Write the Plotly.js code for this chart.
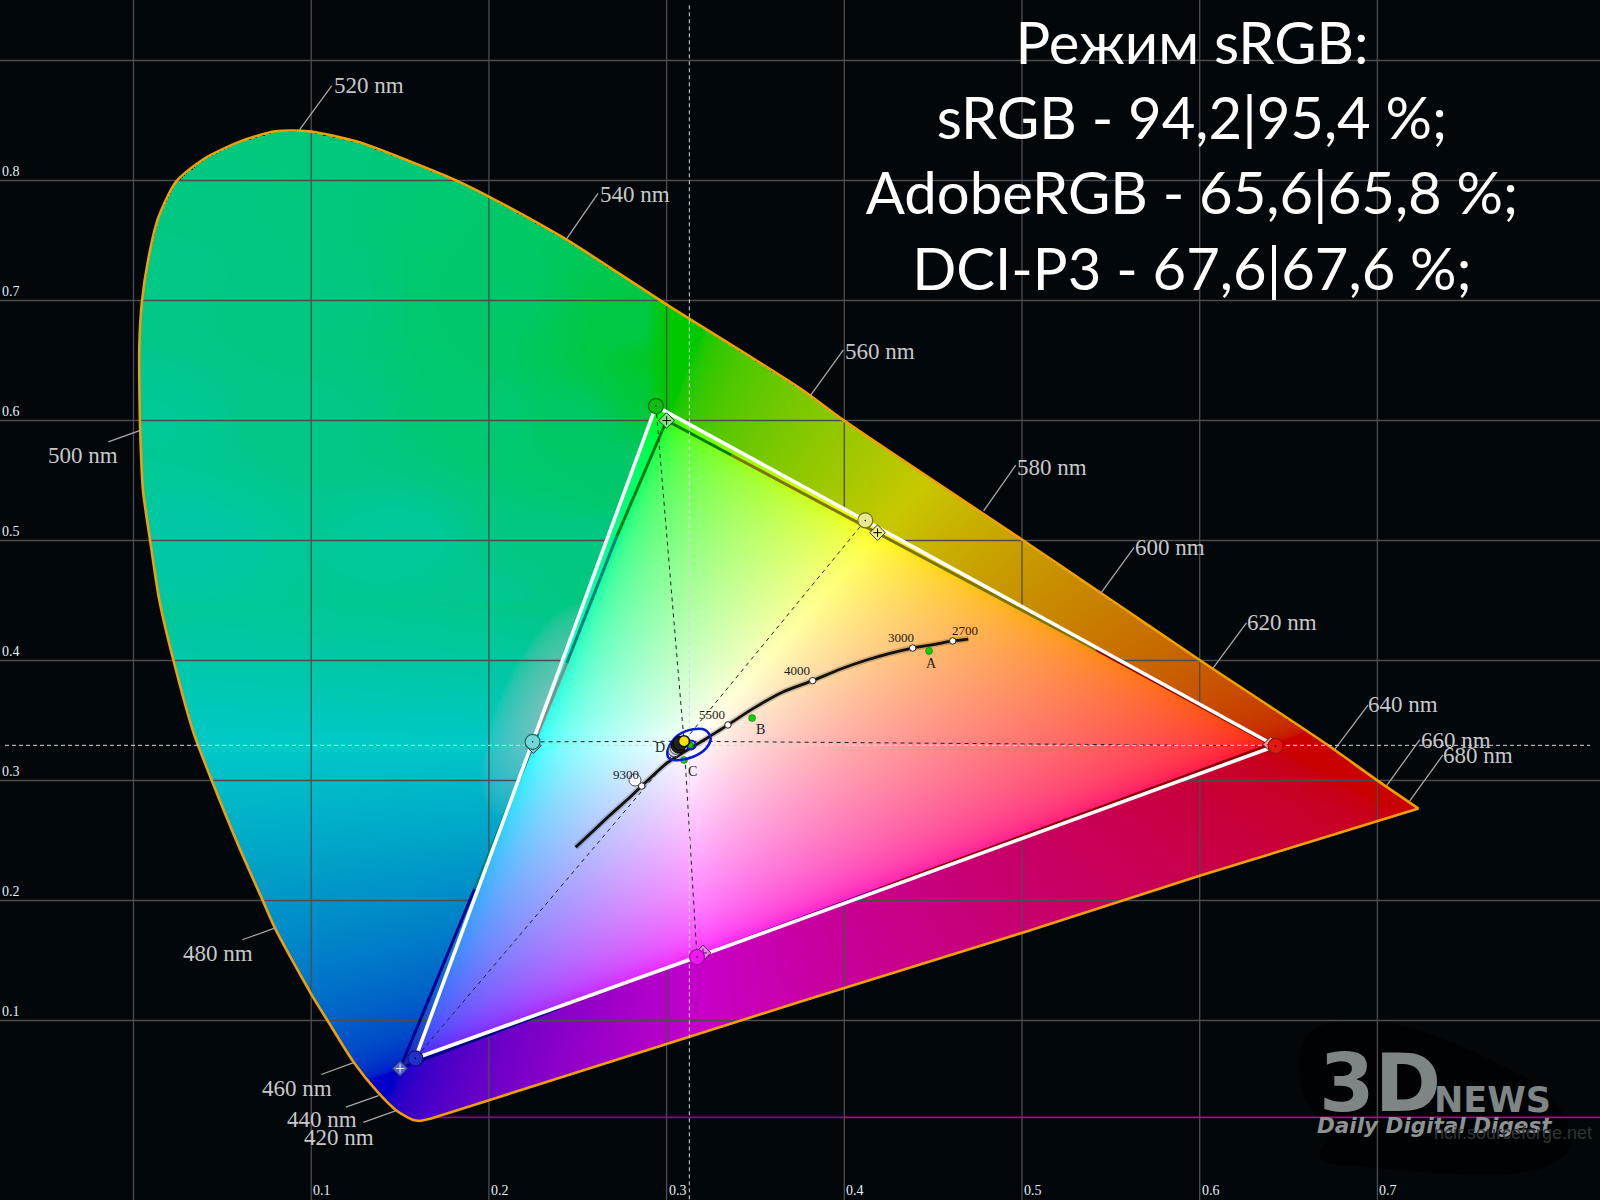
<!DOCTYPE html>
<html><head><meta charset="utf-8">
<script src="https://cdn.plot.ly/plotly-3.0.1.min.js"></script>
<style>html,body{margin:0;padding:0;background:#01070b}#c{width:1600px;height:1200px}</style>
</head><body><div id="c"></div>
<script>
// ---- values (CIE x, y) ----
const locusX=[.1612,.1575,.1481,.1372,.1237,.1096,.1,.0799,.0727,.0598,.044,.034,.0225,.0145,.0096,.0053,.0038,.0033,.0033,.0047,.0082,.0139,.0239,.0397,.0598,.0799,.0986,.1258,.1546,.1833,.2005,.2421,.2981,.3751,.3995,.4999,.5502,.6004,.6708,.6995,.7231,.6004,.4999,.3751,.1675,.1612];
const locusY=[.0163,.0171,.0248,.0407,.0657,.099,.122,.1762,.2001,.2431,.3002,.3388,.4,.4504,.4976,.5422,.5901,.6315,.6634,.6985,.7336,.7687,.7989,.8181,.8324,.841,.841,.8324,.8165,.7989,.7862,.7521,.6985,.6268,.6003,.5008,.4504,.4,.3308,.3005,.2766,.2208,.173,.1156,.0183,.0163];

// blue level of the dim field in its upper-left part, read at sample spots (x, y, level out of 200)
const fieldSpotX=[.09,.05,.02,.1,.2,.28,.295,.29,.2,.25,.1,.01,.15,.25,.03,.2,.27,.27,.24];
const fieldSpotY=[.83,.8,.72,.7,.7,.68,.65,.62,.6,.6,.6,.6,.5,.5,.5,.45,.55,.47,.42];
const fieldSpotBlue=[122,128,135,128,105,70,40,60,115,100,135,150,155,130,165,145,105,125,135];

const gridXValues=[0,.1,.2,.3,.4,.5,.6,.7];
const gridYValues=[.1,.2,.3,.4,.5,.6,.7,.8,.9];
const xTickLabels=['0.1','0.2','0.3','0.4','0.5','0.6','0.7'];
const xTickValues=[.1,.2,.3,.4,.5,.6,.7];
const yTickLabels=['0.1','0.2','0.3','0.4','0.5','0.6','0.7','0.8'];
const yTickValues=[.1,.2,.3,.4,.5,.6,.7,.8];

const nmLabels=['520 nm','540 nm','560 nm','580 nm','600 nm','620 nm','640 nm','660 nm','680 nm','500 nm','480 nm','460 nm','440 nm','420 nm'];
const nmLabelX=[.112,.2617,.3996,.4964,.5628,.6258,.6939,.7237,.7362,-.0486,.0274,.0719,.0856,.0955];
const nmLabelY=[.8788,.7885,.6577,.561,.4943,.4313,.3635,.3335,.321,.571,.156,.0435,.0173,.0029];
const leaderStartX=[.0934,.2436,.3807,.4784,.5445,.6076,.676,.7052,.7182,.0038,.0799,.1235,.1379,.1474];
const leaderStartY=[.8421,.7511,.6204,.5247,.4563,.3938,.326,.2958,.283,.5917,.1771,.0646,.0374,.0247];
const leaderEndX=[.1115,.2614,.3995,.4965,.5631,.6263,.6947,.7239,.7369,-.0142,.0612,.1057,.1195,.1293];
const leaderEndY=[.8788,.7893,.6588,.5629,.4943,.4313,.3628,.334,.3213,.5821,.1673,.055,.0279,.0151];

// measured gamut: R, Y, G, C, B, M circles
const measuredX={R:.6427,Y:.4118,G:.294,C:.2246,B:.1586,M:.3171};
const measuredY={R:.3288,Y:.5167,G:.612,C:.3322,B:.0685,M:.1529};
// reference sRGB gamut: diamonds
const refX={R:.64,Y:.4187,G:.30,C:.225,B:.15,M:.3205};
const refY={R:.33,Y:.5065,G:.60,C:.329,B:.06,M:.1563};
const whiteX=.3098, whiteY=.3327;
const crossX=.3128, crossY=.3293;

const planckX=[.2488,.2588,.2682,.2775,.286,.3,.3226,.33,.3345,.3479,.3657,.3822,.3976,.4126,.4257,.4385,.4501,.461,.4698];
const planckY=[.2443,.2582,.2712,.2835,.2954,.3143,.3352,.3421,.3463,.3593,.374,.3832,.3927,.4004,.406,.4104,.4132,.4163,.4179];
const cctX=[.286,.3345,.3822,.4385,.461];
const cctY=[.2954,.3463,.3832,.4104,.4163];
const cctLabels=['9300','5500','4000','3000','2700'];
const cctLabelX=[.2772,.3257,.3736,.4319,.4678];
const cctLabelY=[.3046,.3552,.3918,.4192,.4249];
const illumX=[.4477,.3481,.3098,.3132];
const illumY=[.408,.3521,.3171,.3296];
const illumLabels=['A','B','C','D'];
const illumLabelX=[.4491,.3527,.3147,.2963];
const illumLabelY=[.3978,.3427,.3073,.3271];
const ellipseX=[.3004,.3019,.3066,.315,.3216,.3248,.3222,.315,.3075,.3019,.3004];
const ellipseY=[.3218,.3296,.3379,.3427,.3421,.3352,.3268,.3198,.3171,.3177,.3218];
const clusterX=[.3043,.3053,.3066,.3075];
const clusterY=[.3248,.3268,.3288,.331];
const blobX=[.6564,.6651,.7052,.7627,.7999,.8086,.7885,.6909,.6679,.6708,.6593,.6564];
const blobY=[.0741,.0933,.098,.0678,.0327,-.0057,-.0248,-.0216,-.0152,.0039,.0358,.0741];

const titleLines=['Режим sRGB:','sRGB - 94,2|95,4 %;','AdobeRGB - 65,6|65,8 %;','DCI-P3 - 67,6|67,6 %;'];

// ---- axes: one pixel is 1/1777 x and 1/1200 y ----
const xRange=[-133.5/1777,(1600-133.5)/1777];
const yRange=[-59.5/1200,1140.5/1200];
const STEPX=2/1777, STEPY=2/1200;
const BG='#01070b';

function inside(px,py,X,Y){let c=false;for(let i=0,j=X.length-1;i<X.length;j=i++){
  if((Y[i]>py)!==(Y[j]>py)&&px<(X[j]-X[i])*(py-Y[i])/(Y[j]-Y[i])+X[i])c=!c;}return c;}
function linear(x,y){
  const X=x/y,Z=(1-x-y)/y;
  let r=3.2406*X-1.5372-.4986*Z,g=-.9689*X+1.8758+.0415*Z,b=.0557*X-.204+1.057*Z;
  r=Math.max(r,0);g=Math.max(g,0);b=Math.max(b,0);
  const m=Math.max(r,g,b)||1;
  return [r/m,g/m,b/m];
}
function spotBlue(x,y){
  if(x>=.3||y<.42)return 0;
  let s=0,w=0;
  for(let k=0;k<fieldSpotX.length;k++){
    const dx=x-fieldSpotX[k],dy=y-fieldSpotY[k];
    const d=dx*dx+dy*dy+1e-4,q=1/(d*Math.sqrt(d));
    s+=q*fieldSpotBlue[k];w+=q;
  }
  return (s/w)*Math.min(1,(.3-x)/.012)*Math.min(1,(y-.42)/.03);
}
function buildOuter(x0,y0,nx,ny){
  const z=[];
  for(let j=0;j<ny;j++){const row=[];const y=y0+j*STEPY;
    for(let i=0;i<nx;i++){const x=x0+i*STEPX;
      if(!inside(x,y,locusX,locusY)){row.push([0,0,0,0]);continue;}
      const c=linear(x,y);
      let R=200*Math.pow(c[0],1/2.2);
      let G=200*Math.pow(c[1],c[1]<1?1/2.75:1);
      let B=Math.max(200*Math.pow(c[2],1/2.2),spotBlue(x,y));
      // pale haze just outside the cyan side of the measured gamut
      const xl=measuredX.C+(y-measuredY.C)*.25;
      const dx=(xl-x)/.028,dy=(y-.36)/.09,r=Math.sqrt(dx*dx+dy*dy);
      if(r<1&&x<xl+.01){const a=.6*Math.pow(1-r,.6);R+=(190-R)*a;G+=(190-G)*a;B+=(190-B)*a;}
      row.push([R,G,B,1]);}
    z.push(row);}
  return z;
}
function buildInner(x0,y0,nx,ny){
  const tx=[measuredX.R,measuredX.G,measuredX.B],ty=[measuredY.R,measuredY.G,measuredY.B];
  const z=[];
  for(let j=0;j<ny;j++){const row=[];const y=y0+j*STEPY;
    for(let i=0;i<nx;i++){const x=x0+i*STEPX;
      if(!inside(x,y,tx,ty)){row.push([0,0,0,0]);continue;}
      const c=linear(x,y);row.push([255*Math.pow(c[0],1/2.5),255*Math.pow(c[1],1/2.5),255*Math.pow(c[2],1/2.5),1]);}
    z.push(row);}
  return z;
}
function segs(xa,ya,xb,yb){const X=[],Y=[];xa.forEach((_,i)=>{X.push(xa[i],xb[i],null);Y.push(ya[i],yb[i],null);});return [X,Y];}

const traces=[];
// base subplot: dim field, watermark shadow, grid
traces.push({type:'image',colormodel:'rgba',z:buildOuter(-.002,0,660,515),x0:-.002,y0:0,dx:STEPX,dy:STEPY,hoverinfo:'skip'});
traces.push({type:'scatter',mode:'lines',x:blobX,y:blobY,fill:'toself',fillcolor:'#000305',line:{width:0,color:'#000305',shape:'spline'},hoverinfo:'skip'});
const gridLine={color:'#4d4d4f',width:1.3};
{const X=[],Y=[];gridXValues.forEach(v=>{X.push(v,v,null);Y.push(yRange[0],yRange[1],null);});
 traces.push({type:'scatter',mode:'lines',x:X,y:Y,line:gridLine,hoverinfo:'skip'});
 const X2=[],Y2=[];gridYValues.forEach(v=>{X2.push(xRange[0],xRange[1],null);Y2.push(v,v,null);});
 traces.push({type:'scatter',mode:'lines',x:X2,y:Y2,line:gridLine,hoverinfo:'skip'});}

// top subplot
const T={xaxis:'x2',yaxis:'y2',hoverinfo:'skip'};
function line(x,y,color,width,dash,extra){traces.push(Object.assign({type:'scatter',mode:'lines',x,y,line:Object.assign({color,width,dash:dash||'solid'},extra||{})},T));}
traces.push(Object.assign({type:'image',colormodel:'rgba',z:buildInner(.15,.06,445,335),x0:.15,y0:.06,dx:STEPX,dy:STEPY},T));

// purple line, locus (the curved part smoothed, the straight purple edge not)
line([.1675,.40],[.0193,.0193],'#7d0a8c',1.6);
line([.40,xRange[1]],[.0193,.0193],'#a3107a',1.6);
line(locusX.slice(0,41),locusY.slice(0,41),'#f0a000',2.6,null,{shape:'spline',smoothing:.7});
line(locusX.slice(40),locusY.slice(40),'#f0a000',2.6);

// leaders
{const s=segs(leaderStartX,leaderStartY,leaderEndX,leaderEndY);line(s[0],s[1],'#a8a8a8',1.3);}

// sRGB reference triangle, coloured by stretch
line([refX.G,.3366],[refY.G,.571],'#007a10',3);
line([.3366,.5417],[.571,.409],'#7d7400',3);
line([.5417,refX.R],[.409,refY.R],'#8b0000',3);
line([refX.G,.2719],[refY.G,.5032],'#007a10',3);
line([.2719,.2438],[.5032,.3977],'#008078',3);
line([.2438,.2276],[.3977,.3393],'#8a8a8a',3);
line([.2276,.1919],[.3393,.2096],'#008078',3);
line([.1919,refX.B],[.2096,refY.B],'#000090',3);
line([refX.B,.24],[refY.B,.1107],'#00008a',3);
line([.24,.42],[.1107,.2099],'#800080',3);
line([.42,refX.R],[.2099,refY.R],'#8b0000',3);

// dashed lines through the white point
line([measuredX.G,whiteX,measuredX.M],[measuredY.G,whiteY,measuredY.M],'#222',1,'4px,4px');
line([measuredX.Y,whiteX,measuredX.B],[measuredY.Y,whiteY,measuredY.B],'#222',1,'4px,4px');
line([measuredX.C,whiteX,measuredX.R],[measuredY.C,whiteY,measuredY.R],'#222',1,'4px,4px');

// crosshair
line([-.0723,.8197],[crossY,crossY],'#d8d8d8',1,'4px,3px');
line([crossX,crossX],[.946,yRange[0]],'#d8d8d8',1,'4px,3px');

// measured triangle
line([measuredX.G,measuredX.Y,measuredX.R,measuredX.M,measuredX.B,measuredX.C,measuredX.G],
     [measuredY.G,measuredY.Y,measuredY.R,measuredY.M,measuredY.B,measuredY.C,measuredY.G],'#fff',3.6);

// Planckian curve
line(planckX,planckY,'rgba(0,0,0,.18)',6,null,{shape:'spline',smoothing:.6});
line(planckX,planckY,'#111',2.8,null,{shape:'spline',smoothing:.6});
function pts(x,y,symbol,size,color,lineColor,lineWidth){
  traces.push(Object.assign({type:'scatter',mode:'markers',x,y,marker:{symbol,size,color,line:{color:lineColor,width:lineWidth}}},T));}
pts(cctX,cctY,'circle',6.5,'#fff','#222',1);
pts([.2822],[.3004],'circle',12,'#fff','#555',1);
pts(illumX,illumY,'circle',7,'#10d010','#0a5a0a',.5);

// white-point cluster
traces.push(Object.assign({type:'scatter',mode:'lines',x:ellipseX,y:ellipseY,line:{color:'#0a18d8',width:2.6,shape:'spline',smoothing:1}},T));
pts(clusterX.slice(0,2),clusterY.slice(0,2),'circle',12,'#d8d8d8','#444',1);
pts(clusterX.slice(2),clusterY.slice(2),'circle',14,'#222','#000',1);
pts([.3138],[.3296],'circle-open',9,'#0a18d8','#0a18d8',2);
pts([.3132],[.3296],'circle',5,'#10d010','#0a5a0a',.5);
pts([whiteX],[whiteY],'circle',11,'#f4e400','#111',1.5);

// diamonds with plus
const diamondColors={R:'#f4a0a0',Y:'#f0f080',G:'#80e880',C:'#70d0d0',B:'#5060e8',M:'#f080f0'};
const plusColors={R:'#a03030',Y:'#000',G:'#000',C:'#004040',B:'#fff',M:'#600060'};
Object.keys(refX).forEach(k=>{
  pts([refX[k]],[refY[k]],'diamond',12,diamondColors[k],'#333',1);
  traces.push(Object.assign({type:'scatter',mode:'markers',x:[refX[k]],y:[refY[k]],marker:{symbol:'cross-thin',size:6,line:{color:plusColors[k],width:1}}},T));
});
// measured circles
const circleColors={R:'#e01a10',Y:'#e8e890',G:'#10c010',C:'#70d8d8',B:'#2030c8',M:'#f018f0'};
const ringColors={R:'#a01010',Y:'#707020',G:'#0a6a0a',C:'#306060',B:'#101860',M:'#a010a0'};
Object.keys(measuredX).forEach(k=>{
  pts([measuredX[k]],[measuredY[k]],'circle',15,circleColors[k],ringColors[k],1.2);
  pts([measuredX[k]],[measuredY[k]],'circle',1.5,'#000','#000',0);
});

// ---- annotations ----
const ann=[];
const serif='Liberation Serif';
nmLabels.forEach((t,i)=>ann.push({text:t,x:nmLabelX[i],y:nmLabelY[i],xref:'x',yref:'y',xanchor:'left',yanchor:'middle',showarrow:false,borderpad:0,font:{family:serif,size:23,color:'#c8c8c8'}}));
xTickLabels.forEach((t,i)=>ann.push({text:t,x:xTickValues[i],y:0,xref:'x',yref:'paper',xanchor:'left',yanchor:'bottom',xshift:0,yshift:0,showarrow:false,font:{family:serif,size:14,color:'#e6eef2'}}));
yTickLabels.forEach((t,i)=>ann.push({text:t,x:0,y:yTickValues[i],xref:'paper',yref:'y',xanchor:'left',yanchor:'bottom',xshift:0,yshift:0,showarrow:false,font:{family:serif,size:14,color:'#e6eef2'}}));
cctLabels.forEach((t,i)=>ann.push({text:t,x:cctLabelX[i],y:cctLabelY[i],xref:'x',yref:'y',xanchor:'center',yanchor:'middle',showarrow:false,font:{family:serif,size:13,color:'#1a1a1a'}}));
illumLabels.forEach((t,i)=>ann.push({text:t,x:illumLabelX[i],y:illumLabelY[i],xref:'x',yref:'y',xanchor:'center',yanchor:'middle',showarrow:false,font:{family:serif,size:14,color:'#1a1a1a'}}));
// watermark
ann.push({text:'<b>3D</b>',x:.7015,y:.0479,xref:'x',yref:'y',showarrow:false,xanchor:'center',yanchor:'middle',font:{family:'DejaVu Sans',size:80,color:'#7e8585'}});
ann.push({text:'<b>NEWS</b>',x:.7645,y:.0338,xref:'x',yref:'y',showarrow:false,xanchor:'center',yanchor:'middle',font:{family:'DejaVu Sans',size:35,color:'#7e8585'}});
ann.push({text:'<b><i>Daily Digital Digest</i></b>',x:.7324,y:.0129,xref:'x',yref:'y',showarrow:false,xanchor:'center',yanchor:'middle',font:{family:'DejaVu Sans',size:21.5,color:'#8d9292'}});
ann.push({text:'ncir.sourceforge.net',x:.7763,y:.0063,xref:'x',yref:'y',showarrow:false,xanchor:'center',yanchor:'middle',font:{family:'Liberation Sans',size:18,color:'#2f3535'}});

const hidden={showgrid:false,zeroline:false,showticklabels:false,ticks:'',showline:false};
const layout={
  width:1600,height:1200,margin:{l:0,r:0,t:0,b:0,pad:0},showlegend:false,hovermode:false,
  paper_bgcolor:BG,plot_bgcolor:BG,
  xaxis:Object.assign({range:xRange,domain:[0,1],constrain:'range',fixedrange:true},hidden),
  yaxis:Object.assign({range:yRange,domain:[0,1],autorange:false,scaleanchor:false,constrain:'range',fixedrange:true},hidden),
  xaxis2:Object.assign({range:xRange,overlaying:'x',anchor:'y2',constrain:'range',fixedrange:true},hidden),
  yaxis2:Object.assign({range:yRange,overlaying:'y',anchor:'x2',autorange:false,scaleanchor:false,constrain:'range',fixedrange:true},hidden),
  title:{text:titleLines.join('<br>'),x:.745,xanchor:'center',xref:'paper',y:.947,yanchor:'top',yref:'paper',automargin:false,font:{family:'Lato',size:58,color:'#fff'}},
  annotations:ann
};
Plotly.newPlot('c',traces,layout,{staticPlot:true,displayModeBar:false});
</script></body></html>
